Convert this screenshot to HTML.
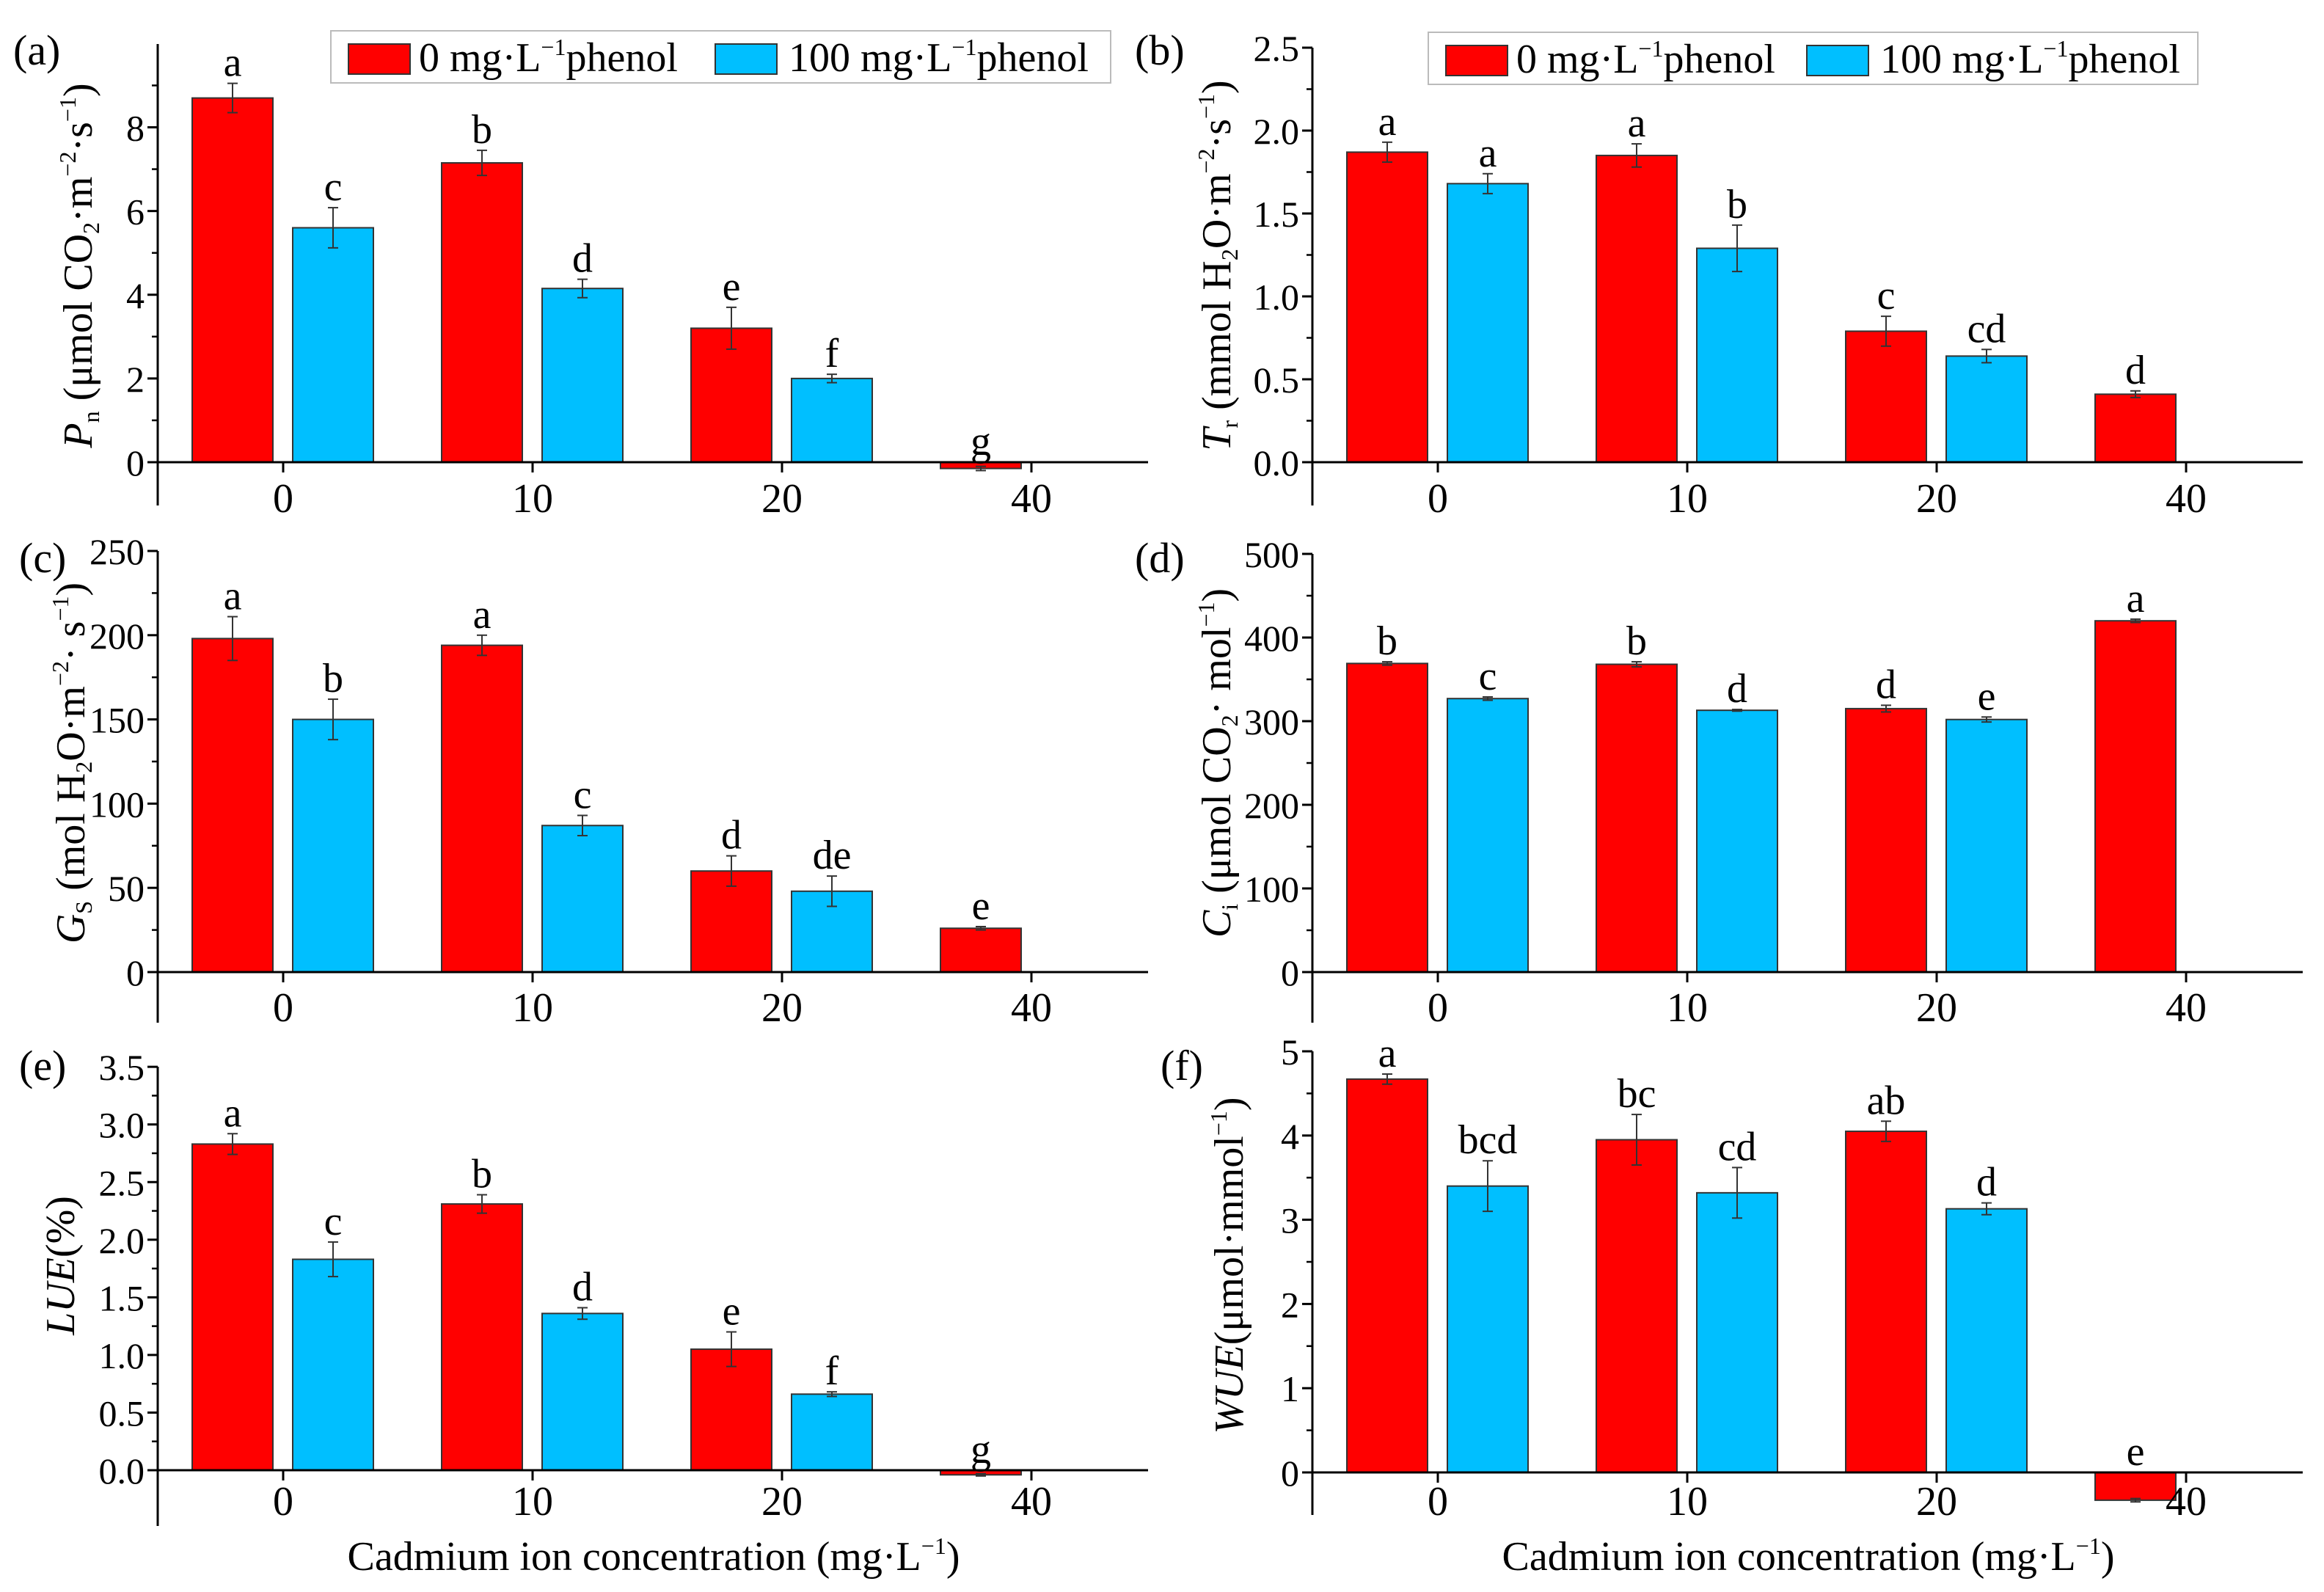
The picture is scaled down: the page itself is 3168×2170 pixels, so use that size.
<!DOCTYPE html>
<html><head><meta charset="utf-8"><style>
html,body{margin:0;padding:0;background:#fff}
svg{display:block}
text{font-family:"Liberation Serif",serif;fill:#000}
</style></head><body>
<svg id="chart" width="3168" height="2170" viewBox="0 0 3168 2170" xmlns="http://www.w3.org/2000/svg">
<g id="root"></g>
</svg>
<script>
const categories = ["0","10","20","40"];
const pnRed = [8.7, 7.15, 3.2, -0.15];
const pnBlue = [5.6, 4.15, 2.0, null];
const pnRedErr = [0.35, 0.3, 0.5, 0.05];
const pnBlueErr = [0.48, 0.22, 0.1, 0];
const pnRedLet = ["a","b","e","g"];
const pnBlueLet = ["c","d","f",""];
const trRed = [1.87, 1.85, 0.79, 0.41];
const trBlue = [1.68, 1.29, 0.64, null];
const trRedErr = [0.06, 0.07, 0.09, 0.02];
const trBlueErr = [0.06, 0.14, 0.04, 0];
const trRedLet = ["a","a","c","d"];
const trBlueLet = ["a","b","cd",""];
const gsRed = [198, 194, 60, 26];
const gsBlue = [150, 87, 48, null];
const gsRedErr = [13, 6, 9, 1];
const gsBlueErr = [12, 6, 9, 0];
const gsRedLet = ["a","a","d","e"];
const gsBlueLet = ["b","c","de",""];
const ciRed = [369, 368, 315, 420];
const ciBlue = [327, 313, 302, null];
const ciRedErr = [2, 3, 4, 2];
const ciBlueErr = [2, 1, 3, 0];
const ciRedLet = ["b","b","d","a"];
const ciBlueLet = ["c","d","e",""];
const lueRed = [2.83, 2.31, 1.05, -0.04];
const lueBlue = [1.83, 1.36, 0.66, null];
const lueRedErr = [0.09, 0.08, 0.15, 0.01];
const lueBlueErr = [0.15, 0.05, 0.02, 0];
const lueRedLet = ["a","b","e","g"];
const lueBlueLet = ["c","d","f",""];
const wueRed = [4.67, 3.95, 4.05, -0.33];
const wueBlue = [3.40, 3.32, 3.13, null];
const wueRedErr = [0.06, 0.3, 0.12, 0.02];
const wueBlueErr = [0.3, 0.3, 0.07, 0];
const wueRedLet = ["a","bc","ab","e"];
const wueBlueLet = ["bcd","cd","d",""];
const pnTicks = ["0","2","4","6","8"];
const trTicks = ["0.0","0.5","1.0","1.5","2.0","2.5"];
const gsTicks = ["0","50","100","150","200","250"];
const ciTicks = ["0","100","200","300","400","500"];
const lueTicks = ["0.0","0.5","1.0","1.5","2.0","2.5","3.0","3.5"];
const wueTicks = ["0","1","2","3","4","5"];

const NS="http://www.w3.org/2000/svg";
const root=document.getElementById('root');
function mk(tag,attrs,parent){const e=document.createElementNS(NS,tag);for(const k in attrs)e.setAttribute(k,attrs[k]);(parent||root).appendChild(e);return e;}
const FS=56, TFS=50, SUP=32, SD=22;
function sup(t){return `<tspan font-size="${SUP}" dy="-${SD}">${t}</tspan>`;}
function sub(t){return `<tspan font-size="${SUP}" dy="10">${t}</tspan>`;}
function back(dy,t){return `<tspan dy="${dy}">${t}</tspan>`;}

const panels=[
 {id:"pn",tag:"(a)",tx:18,ty:88,ax:215,y0:630,ppu:57.06,top:60,bottom:689,xl:698,step:2,minor:1,ticks:pnTicks,red:pnRed,blue:pnBlue,re:pnRedErr,be:pnBlueErr,rl:pnRedLet,bl:pnBlueLet,lab:0,tox:90,
  title:'<tspan font-style="italic">P</tspan>'+sub('n')+back(-10,' (μmol CO')+sub('2')+back(-10,'·m')+sup('−2')+back(SD,'·s')+sup('−1')+back(SD,')'),tyc:362,legend:[451,42]},
 {id:"tr",tag:"(b)",tx:1547,ty:88,ax:1789,y0:630,ppu:226,top:65,bottom:689,xl:698,step:0.5,minor:0.25,ticks:trTicks,red:trRed,blue:trBlue,re:trRedErr,be:trBlueErr,rl:trRedLet,bl:trBlueLet,lab:0,tox:112,
  title:'<tspan font-style="italic">T</tspan>'+sub('r')+back(-10,' (mmol H')+sub('2')+back(-10,'O·m')+sup('−2')+back(SD,'·s')+sup('−1')+back(SD,')'),tyc:362,legend:[1947,44]},
 {id:"gs",tag:"(c)",tx:26,ty:780,ax:215,y0:1325,ppu:2.296,top:751,bottom:1394,xl:1392,step:50,minor:25,ticks:gsTicks,red:gsRed,blue:gsBlue,re:gsRedErr,be:gsBlueErr,rl:gsRedLet,bl:gsBlueLet,lab:0,tox:100,
  title:'<tspan font-style="italic">G</tspan>'+sub('S')+back(-10,' (mol H')+sub('2')+back(-10,'O·m')+sup('−2')+back(SD,'· s')+sup('−1')+back(SD,')'),tyc:1040},
 {id:"ci",tag:"(d)",tx:1547,ty:780,ax:1789,y0:1325,ppu:1.14,top:755,bottom:1394,xl:1392,step:100,minor:50,ticks:ciTicks,red:ciRed,blue:ciBlue,re:ciRedErr,be:ciBlueErr,rl:ciRedLet,bl:ciBlueLet,lab:0,tox:112,
  title:'<tspan font-style="italic">C</tspan>'+sub('i')+back(-10,' (μmol CO')+sub('2')+back(-10,'· mol')+sup('−1')+back(SD,')'),tyc:1040},
 {id:"lue",tag:"(e)",tx:26,ty:1472,ax:215,y0:2004,ppu:157.1,top:1454,bottom:2080,xl:2065,step:0.5,minor:0.25,ticks:lueTicks,red:lueRed,blue:lueBlue,re:lueRedErr,be:lueBlueErr,rl:lueRedLet,bl:lueBlueLet,lab:1,tox:114,
  title:'<tspan font-style="italic">LUE</tspan><tspan>(%)</tspan>',tyc:1725},
 {id:"wue",tag:"(f)",tx:1582,ty:1472,ax:1789,y0:2007,ppu:114.8,top:1433,bottom:2065,xl:2065,step:1,minor:0.5,ticks:wueTicks,red:wueRed,blue:wueBlue,re:wueRedErr,be:wueBlueErr,rl:wueRedLet,bl:wueBlueLet,lab:1,tox:95,
  title:'<tspan font-style="italic">WUE</tspan><tspan>(μmol·mmol</tspan>'+sup('−1')+back(SD,')'),tyc:1725}
];
const tickOff=[171,511,851,1191];
const RED="#ff0000",BLUE="#00bfff",STROKE="#333";

panels.forEach(p=>{
  const g=mk('g',{});
  
  
  const Y=v=>p.y0-v*p.ppu;
  const lbl=mk('text',{x:p.tx,y:p.ty,'font-size':58},g);lbl.textContent=p.tag;
  
  const ya=mk('line',{x1:p.ax,y1:p.top,x2:p.ax,y2:p.bottom,stroke:"#000","stroke-width":3},g);
  
  p.ticks.forEach((t,i)=>{
    const v=i*p.step,y=Y(v);
    mk('line',{x1:p.ax-14,y1:y,x2:p.ax,y2:y,stroke:"#000","stroke-width":3},g);
    const tt=mk('text',{x:p.ax-18,y:y+18,'font-size':TFS,'text-anchor':'end'},g);tt.textContent=t;
    
  });
  const nMinor=Math.floor((p.y0-p.top)/p.ppu/p.minor+1e-6);
  for(let k=1;k<=nMinor;k++){const v=k*p.minor;if(Math.abs(v/p.step-Math.round(v/p.step))<1e-6)continue;
    mk('line',{x1:p.ax-8,y1:Y(v),x2:p.ax,y2:Y(v),stroke:"#000","stroke-width":2.5},g);}
  categories.forEach((c,i)=>{
    const cx=p.ax+tickOff[i];
    [[p.red[i],p.re[i],p.rl[i],RED,-69,'red'],[p.blue[i],p.be[i],p.bl[i],BLUE,68,'blue']].forEach(([v,e,l,col,off,nm])=>{
      if(v===null)return;
      const bx=cx+off-55,y=Y(v);
      const r=mk('rect',{x:bx,y:Math.min(y,p.y0),width:110,height:Math.abs(p.y0-y),fill:col,stroke:STROKE,'stroke-width':2},g);
      
      const bxc=cx+off;
      if(e>0){const y1=Y(v+e),y2=Y(v-e);
        mk('line',{x1:bxc,y1:y1,x2:bxc,y2:y2,stroke:STROKE,'stroke-width':2},g);
        mk('line',{x1:bxc-7,y1:y1,x2:bxc+7,y2:y1,stroke:STROKE,'stroke-width':2},g);
        mk('line',{x1:bxc-7,y1:y2,x2:bxc+7,y2:y2,stroke:STROKE,'stroke-width':2},g);}
      if(l){const ly=(v>=0?Y(v+e):p.y0)-10;
        const lt=mk('text',{x:bxc,y:ly,'font-size':FS,'text-anchor':'middle'},g);lt.textContent=l;
        }
    });
  });
  const xa=mk('line',{x1:p.ax-13,y1:p.y0,x2:p.ax+1350,y2:p.y0,stroke:"#000","stroke-width":3},g);
  
  categories.forEach((c,i)=>{
    const x=p.ax+tickOff[i];
    mk('line',{x1:x,y1:p.y0,x2:x,y2:p.y0+14,stroke:"#000","stroke-width":3},g);
    const tt=mk('text',{x:x,y:p.xl,'font-size':FS,'text-anchor':'middle'},g);tt.textContent=c;
    
  });
  const yt=mk('text',{x:0,y:0,'font-size':FS,'text-anchor':'middle',transform:`translate(${p.ax-p.tox},${p.tyc}) rotate(-90)`},g);
  yt.innerHTML=p.title;
  
  if(p.lab){const xt=mk('text',{x:p.ax+676,y:2140,'font-size':FS,'text-anchor':'middle'},g);
    xt.innerHTML='Cadmium ion concentration (mg·L'+sup('−1')+back(SD,')');
    }
  if(p.legend){const [lx,ly]=p.legend;
    const lg=mk('g',{},g);
    mk('rect',{x:lx,y:ly,width:p.id==='pn'?1063:1049,height:71,fill:'#fff',stroke:'#bbb','stroke-width':2},lg);
    mk('rect',{x:lx+24,y:ly+18,width:84,height:41,fill:RED,stroke:STROKE,'stroke-width':2},lg);
    const t1=mk('text',{x:lx+120,y:ly+55,'font-size':FS},lg);t1.innerHTML='0 mg·L'+sup('−1')+back(SD,'phenol');
    
    const off2=p.id==='pn'?524:516;
    mk('rect',{x:lx+off2,y:ly+18,width:84,height:41,fill:BLUE,stroke:STROKE,'stroke-width':2},lg);
    const t2=mk('text',{x:lx+off2+100,y:ly+55,'font-size':FS},lg);t2.innerHTML='100 mg·L'+sup('−1')+back(SD,'phenol');
    }
});
</script>
</body></html>
